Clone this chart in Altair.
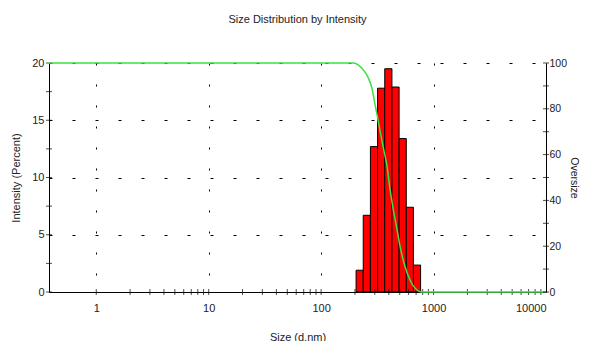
import altair as alt
import pandas as pd

# Histogram bins (size in d.nm) and intensity (%)
bin_lo = [204.6, 236.9, 274.4, 317.8, 368.1, 426.3, 493.7, 571.8, 662.2]
bin_hi = [236.9, 274.4, 317.8, 368.1, 426.3, 493.7, 571.8, 662.2, 766.9]
intensity = [1.9, 6.7, 12.7, 17.8, 19.5, 17.9, 13.4, 7.4, 2.35]

# Cumulative oversize curve (%)
curve_size = [0.38, 194, 215, 238, 264, 283, 302, 317, 335, 358, 384, 411, 439, 471,
              504, 558, 618, 685, 759, 830, 10000]
curve_val = [100, 100, 99.1, 96.9, 93.3, 89.0, 81.7, 76.6, 70.0, 62.8, 55.5, 44.5, 35.8,
             27.8, 19.8, 11.0, 5.2, 1.6, 0.1, 0, 0]

x_labels = [1, 10, 100, 1000, 10000]
y_left_labels = [0, 5, 10, 15, 20]
y_right_labels = [0, 20, 40, 60, 80, 100]
x_minor = [m * d for d in [1, 10, 100, 1000] for m in range(1, 10)]
y_left_minor = [0, 2.5, 5, 7.5, 10, 12.5, 15, 17.5, 20]
y_right_minor = [0, 10, 20, 30, 40, 50, 60, 70, 80, 90, 100]

FONT = "Liberation Sans, Arial, sans-serif"
W, H = 497, 229

bars_df = pd.DataFrame({"lo": bin_lo, "hi": bin_hi, "v": intensity})
curve_df = pd.DataFrame({"s": curve_size, "u": curve_val})
xt_df = pd.DataFrame({"lo": x_minor})
ylt_df = pd.DataFrame({"v": y_left_minor})
yrt_df = pd.DataFrame({"u": y_right_minor})

xscale = alt.Scale(type="log", domain=[0.38, 10000], nice=False)
yl_scale = alt.Scale(domain=[0, 20], nice=False)
yr_scale = alt.Scale(domain=[0, 100], nice=False)

x_axis = alt.Axis(values=x_labels, format="d", title="Size (d.nm)", grid=True,
                  gridDash=[2, 19], gridColor="black", gridOpacity=1, ticks=False,
                  labelPadding=10, titlePadding=18, domainColor="black")
yl_axis = alt.Axis(values=y_left_labels, orient="left", title="Intensity (Percent)", grid=True,
                   gridDash=[3, 20], gridColor="black", gridOpacity=1, ticks=False,
                   labelPadding=5, titlePadding=10, domainColor="black")
yr_axis = alt.Axis(values=y_right_labels, orient="right", title="Oversize", grid=False,
                   ticks=False, labelPadding=3, titlePadding=2, domainColor="black",
                   labelFontSize=10.5, titleFontSize=10.5)

bars = alt.Chart(bars_df).mark_rect(fill="#ff0000", stroke="black", strokeWidth=1).encode(
    x=alt.X("lo:Q", scale=xscale, axis=x_axis),
    x2="hi:Q",
    y=alt.Y("v:Q", scale=yl_scale, axis=yl_axis),
    y2=alt.datum(0),
)

xticks = alt.Chart(xt_df).mark_tick(color="black", size=6, thickness=1, orient="vertical").encode(
    x=alt.X("lo:Q", scale=xscale, axis=x_axis),
    y=alt.value(H),
)
ylticks = alt.Chart(ylt_df).mark_tick(color="black", size=6, thickness=1, orient="horizontal").encode(
    y=alt.Y("v:Q", scale=yl_scale, axis=yl_axis),
    x=alt.value(0),
)

left = alt.layer(bars, xticks, ylticks)

line = alt.Chart(curve_df).mark_line(color="#3fe03f", strokeWidth=1.5, interpolate="monotone").encode(
    x=alt.X("s:Q", scale=xscale, axis=x_axis),
    y=alt.Y("u:Q", scale=yr_scale, axis=yr_axis),
)
yrticks = alt.Chart(yrt_df).mark_tick(color="black", size=6, thickness=1, orient="horizontal").encode(
    y=alt.Y("u:Q", scale=yr_scale, axis=yr_axis),
    x=alt.value(W),
)
right = alt.layer(line, yrticks)

chart = alt.layer(left, right).resolve_scale(y="independent").properties(
    width=W, height=H,
    padding={"left": 41, "top": 55, "right": 36, "bottom": 49},
    autosize=alt.AutoSizeParams(type="none"),
    title=alt.TitleParams("Size Distribution by Intensity", fontSize=11, fontWeight="normal",
                          font=FONT, color="#222222", anchor="middle", frame="group", offset=32),
).configure_axis(
    labelFont=FONT, titleFont=FONT, labelFontSize=11, titleFontSize=11,
    labelColor="#222222", titleColor="#222222", titleFontWeight="normal",
).configure_view(stroke=None)

chart.save("out.html", embed_options={"renderer": "svg", "actions": False})
